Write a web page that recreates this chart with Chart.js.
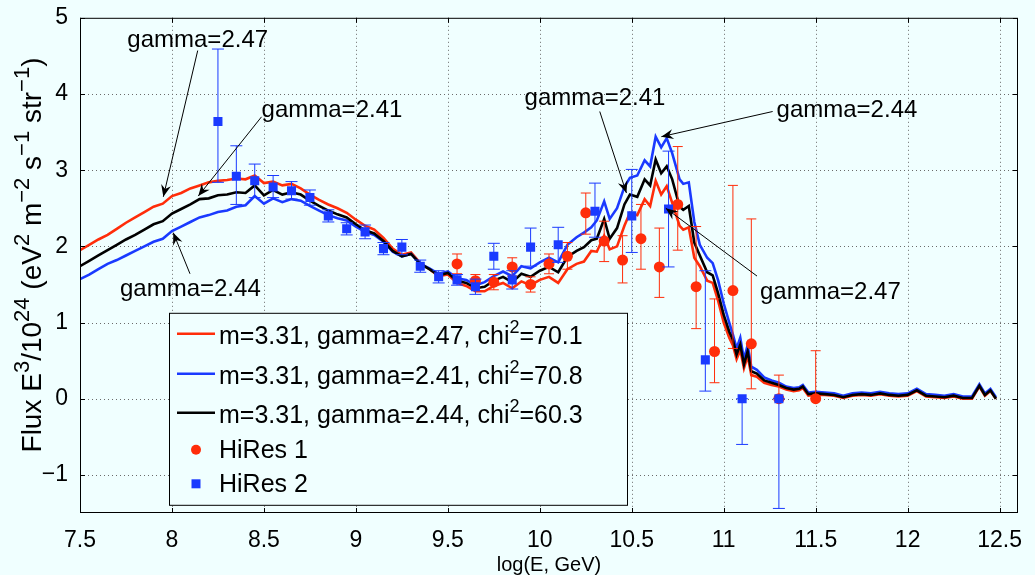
<!DOCTYPE html>
<html>
<head>
<meta charset="utf-8">
<script src="https://cdn.jsdelivr.net/npm/chart.js@4"></script>
<style>
  html, body { margin: 0; padding: 0; background: #F0FFFF; }
  #wrap { width: 1035px; height: 575px; }
</style>
</head>
<body>
<div id="wrap"><canvas id="chart" width="1035" height="575"></canvas></div>
<script>
// ---- data ----
const xTicks = [7.5, 8, 8.5, 9, 9.5, 10, 10.5, 11, 11.5, 12, 12.5];
const yTicks = [-1, 0, 1, 2, 3, 4, 5];

const logE = [
  7.50, 7.55, 7.60, 7.65, 7.70, 7.75, 7.80, 7.85, 7.90, 7.95,
  8.00, 8.05, 8.10, 8.15, 8.20, 8.25, 8.30, 8.35, 8.40, 8.45,
  8.50, 8.55, 8.60, 8.65, 8.70, 8.75, 8.80, 8.85, 8.90, 8.95,
  9.00, 9.05, 9.10, 9.15, 9.20, 9.25, 9.30, 9.35, 9.40, 9.45,
  9.50, 9.55, 9.60, 9.65, 9.70, 9.75, 9.80, 9.85, 9.90, 9.95,
  10.00, 10.05, 10.10, 10.15, 10.20,
  10.24, 10.28, 10.31, 10.35, 10.38, 10.42, 10.46, 10.49, 10.53, 10.57,
  10.60, 10.63, 10.66, 10.69, 10.72, 10.76, 10.78, 10.81, 10.84, 10.87,
  10.91, 10.94, 10.97, 11.00, 11.03, 11.05, 11.07, 11.09, 11.11, 11.13,
  11.15, 11.18, 11.22, 11.26, 11.30, 11.34, 11.38, 11.41, 11.43, 11.46,
  11.50,
  11.55, 11.60, 11.65, 11.70, 11.75, 11.80, 11.85, 11.90, 11.95, 12.00,
  12.05, 12.10, 12.15, 12.20, 12.25, 12.30, 12.35, 12.39, 12.42, 12.45, 12.48
];

// m=3.31, gamma=2.47
const fluxG247 = [
  1.95, 2.02, 2.09, 2.15, 2.23, 2.31, 2.38, 2.45, 2.52, 2.56,
  2.66, 2.70, 2.76, 2.80, 2.84, 2.86, 2.87, 2.89, 2.88, 2.93,
  2.83, 2.85, 2.80, 2.82, 2.76, 2.68, 2.61, 2.55, 2.50, 2.44,
  2.35, 2.27, 2.22, 2.11, 1.97, 1.89, 1.92, 1.78, 1.70, 1.61,
  1.63, 1.52, 1.48, 1.41, 1.41, 1.48, 1.52, 1.45, 1.54, 1.49,
  1.56, 1.60, 1.52, 1.70, 1.77,
  1.80, 1.94, 1.93, 2.14, 1.96, 2.00, 2.27, 2.44, 2.41, 2.62,
  2.53, 2.86, 2.68, 2.79, 2.57, 2.27, 2.22, 2.25, 1.85, 1.74,
  1.55, 1.52, 1.28, 1.00, 0.80, 0.70, 0.52, 0.64, 0.40, 0.56,
  0.31, 0.29, 0.21, 0.18, 0.16, 0.12, 0.10, 0.11, 0.14, 0.04,
  0.05,
  0.05, 0.04, 0.01, 0.04, 0.05, 0.04, 0.06, 0.04, 0.03, 0.04,
  0.10, 0.03, 0.02, 0.01, 0.03, 0.00, 0.00, 0.16, 0.04, 0.10, 0.00
];

// m=3.31, gamma=2.41
const fluxG241 = [
  1.57, 1.63, 1.70, 1.77, 1.82, 1.88, 1.94, 2.00, 2.06, 2.10,
  2.20, 2.26, 2.32, 2.38, 2.41, 2.45, 2.47, 2.52, 2.54, 2.66,
  2.56, 2.63, 2.58, 2.62, 2.60, 2.53, 2.47, 2.41, 2.37, 2.34,
  2.26, 2.19, 2.15, 2.06, 1.93, 1.87, 1.90, 1.77, 1.71, 1.64,
  1.67, 1.58, 1.56, 1.49, 1.53, 1.61, 1.67, 1.61, 1.74, 1.71,
  1.79, 1.85, 1.79, 2.02, 2.12,
  2.18, 2.25, 2.34, 2.59, 2.36, 2.50, 2.78, 2.90, 2.93, 3.13,
  3.05, 3.44, 3.30, 3.42, 3.22, 2.88, 2.82, 2.84, 2.32, 2.02,
  1.85, 1.78, 1.55, 1.25, 1.00, 0.84, 0.66, 0.80, 0.52, 0.70,
  0.42, 0.38, 0.28, 0.24, 0.21, 0.16, 0.14, 0.15, 0.18, 0.08,
  0.09,
  0.08, 0.07, 0.04, 0.07, 0.08, 0.07, 0.09, 0.07, 0.06, 0.07,
  0.13, 0.06, 0.05, 0.04, 0.06, 0.03, 0.03, 0.19, 0.07, 0.13, 0.02
];

// m=3.31, gamma=2.44
const fluxG244 = [
  1.74, 1.81, 1.88, 1.95, 2.02, 2.09, 2.15, 2.22, 2.29, 2.33,
  2.43, 2.49, 2.55, 2.62, 2.63, 2.67, 2.68, 2.71, 2.70, 2.80,
  2.67, 2.74, 2.68, 2.71, 2.68, 2.60, 2.53, 2.47, 2.42, 2.38,
  2.29, 2.21, 2.17, 2.07, 1.94, 1.87, 1.90, 1.77, 1.70, 1.62,
  1.65, 1.55, 1.52, 1.45, 1.47, 1.55, 1.60, 1.53, 1.64, 1.60,
  1.68, 1.73, 1.66, 1.86, 1.94,
  1.99, 2.08, 2.10, 2.36, 2.10, 2.24, 2.55, 2.68, 2.65, 2.88,
  2.80, 3.14, 2.96, 3.05, 2.88, 2.52, 2.48, 2.53, 2.05, 1.88,
  1.66, 1.62, 1.38, 1.10, 0.88, 0.77, 0.58, 0.71, 0.45, 0.62,
  0.36, 0.33, 0.24, 0.21, 0.18, 0.14, 0.12, 0.13, 0.16, 0.06,
  0.07,
  0.06, 0.05, 0.02, 0.05, 0.06, 0.05, 0.07, 0.05, 0.04, 0.05,
  0.11, 0.04, 0.03, 0.02, 0.04, 0.01, 0.01, 0.17, 0.05, 0.11, 0.00
];

// HiRes 1
const hr1E  = [9.55, 9.65, 9.75, 9.85, 9.95, 10.05, 10.15, 10.25, 10.35, 10.45, 10.55, 10.65, 10.75, 10.85, 10.95, 11.05, 11.15, 11.30, 11.50];
const hr1F  = [1.77, 1.55, 1.53, 1.73, 1.50, 1.77, 1.87, 2.44, 2.07, 1.82, 2.10, 1.73, 2.55, 1.47, 0.62, 1.42, 0.72, 0.00, 0.00];
const hr1Lo = [1.64, 1.47, 1.43, 1.61, 1.40, 1.64, 1.70, 2.16, 1.80, 1.52, 1.70, 1.33, 1.95, 0.92, 0.21, 0.66, 0.13, 0.00, 0.00];
const hr1Hi = [1.90, 1.63, 1.63, 1.85, 1.60, 1.90, 2.05, 2.70, 2.33, 2.14, 2.55, 2.24, 3.31, 2.26, 1.31, 2.80, 2.36, 0.31, 0.63];

// HiRes 2
const hr2E  = [8.25, 8.35, 8.45, 8.55, 8.65, 8.75, 8.85, 8.95, 9.05, 9.15, 9.25, 9.35, 9.45, 9.55, 9.65, 9.75, 9.85, 9.95, 10.10, 10.30, 10.50, 10.70, 10.90, 11.10, 11.30];
const hr2F  = [3.64, 2.92, 2.86, 2.78, 2.73, 2.64, 2.40, 2.23, 2.19, 1.97, 1.99, 1.74, 1.60, 1.56, 1.47, 1.87, 1.56, 1.99, 2.02, 2.46, 2.40, 2.49, 0.51, 0.00, 0.00];
const hr2Lo = [2.84, 2.55, 2.64, 2.64, 2.62, 2.54, 2.32, 2.15, 2.10, 1.89, 1.89, 1.66, 1.52, 1.49, 1.37, 1.70, 1.44, 1.74, 1.79, 2.12, 1.92, 1.73, 0.10, -0.60, -1.44];
const hr2Hi = [4.59, 3.32, 3.08, 2.93, 2.85, 2.74, 2.48, 2.31, 2.28, 2.05, 2.09, 1.82, 1.68, 1.63, 1.57, 2.04, 1.68, 2.24, 2.25, 2.83, 3.01, 3.25, 1.68, 0.00, 0.00];

// text labels with arrows (positions in data units)
const notes = [
  { text: 'gamma=2.47', at: [8.14, 4.70], from: [8.14, 4.57], to: [7.953, 2.65] },
  { text: 'gamma=2.41', at: [8.87, 3.79], from: [8.487, 3.70], to: [8.143, 2.66] },
  { text: 'gamma=2.44', at: [8.10, 1.44], from: [8.098, 1.64], to: [8.007, 2.18] },
  { text: 'gamma=2.41', at: [10.30, 3.94], from: [10.326, 3.77], to: [10.471, 2.70] },
  { text: 'gamma=2.44', at: [11.67, 3.78], from: [11.266, 3.77], to: [10.661, 3.44] },
  { text: 'gamma=2.47', at: [11.58, 1.40], from: [11.181, 1.61], to: [10.685, 2.50] }
];

const RED = '#FF2D0A';
const BLUE = '#1A3AFF';
const BLACK = '#000000';
const BG = '#F0FFFF';
const FONT = "'Liberation Sans', Arial, Helvetica, sans-serif";

const pts = (xs, ys) => xs.map((x, i) => ({ x, y: ys[i] }));

// draw text with superscript pieces; parts: [text, isSup]
function richWidth(ctx, parts, size, supScale) {
  let w = 0;
  parts.forEach(([t, sup]) => {
    ctx.font = `${sup ? Math.round(size * supScale) : size}px ${FONT}`;
    w += ctx.measureText(t).width;
  });
  return w;
}
function drawRich(ctx, parts, x, y, size, supScale) {
  let cx = x;
  ctx.textBaseline = 'alphabetic';
  ctx.textAlign = 'left';
  parts.forEach(([t, sup]) => {
    ctx.font = `${sup ? Math.round(size * supScale) : size}px ${FONT}`;
    ctx.fillText(t, cx, sup ? y - size * 0.42 : y);
    cx += ctx.measureText(t).width;
  });
}

function arrow(ctx, x0, y0, x1, y1) {
  ctx.beginPath();
  ctx.moveTo(x0, y0);
  ctx.lineTo(x1, y1);
  ctx.stroke();
  const a = Math.atan2(y1 - y0, x1 - x0);
  const ux = Math.cos(a), uy = Math.sin(a);
  const px = -uy, py = ux;
  const L = 12, W = 5, B = 8;
  ctx.beginPath();
  ctx.moveTo(x1, y1);
  ctx.lineTo(x1 - ux * L + px * W, y1 - uy * L + py * W);
  ctx.lineTo(x1 - ux * B, y1 - uy * B);
  ctx.lineTo(x1 - ux * L - px * W, y1 - uy * L - py * W);
  ctx.closePath();
  ctx.fill();
}

const matlabLook = {
  id: 'matlabLook',
  beforeDraw(chart) {
    const ctx = chart.ctx;
    ctx.save();
    ctx.fillStyle = BG;
    ctx.fillRect(0, 0, chart.width, chart.height);
    ctx.restore();
  },
  beforeDatasetsDraw(chart) {
    const { ctx, chartArea: a, scales: { x, y } } = chart;
    ctx.save();
    ctx.strokeStyle = '#6a6a6a';
    ctx.lineWidth = 1;
    ctx.setLineDash([1, 3]);
    xTicks.forEach(v => {
      const px = Math.round(x.getPixelForValue(v)) + 0.5;
      if (px <= a.left + 1 || px >= a.right - 1) return;
      ctx.beginPath(); ctx.moveTo(px, a.top); ctx.lineTo(px, a.bottom); ctx.stroke();
    });
    yTicks.forEach(v => {
      const py = Math.round(y.getPixelForValue(v)) + 0.5;
      if (py <= a.top + 1 || py >= a.bottom - 1) return;
      ctx.beginPath(); ctx.moveTo(a.left, py); ctx.lineTo(a.right, py); ctx.stroke();
    });
    ctx.restore();
  },
  beforeDatasetDraw(chart, args) {
    const ds = chart.data.datasets[args.index];
    if (!ds.errLo) return;
    const { ctx, scales: { x, y } } = chart;
    ctx.save();
    ctx.strokeStyle = ds.backgroundColor;
    ctx.lineWidth = 1;
    const cap = ds.capHalf;
    ds.data.forEach((p, i) => {
      const px = x.getPixelForValue(p.x);
      const lo = y.getPixelForValue(ds.errLo[i]);
      const hi = y.getPixelForValue(ds.errHi[i]);
      ctx.beginPath();
      ctx.moveTo(px, lo); ctx.lineTo(px, hi);
      ctx.moveTo(px - cap, lo); ctx.lineTo(px + cap, lo);
      ctx.moveTo(px - cap, hi); ctx.lineTo(px + cap, hi);
      ctx.stroke();
    });
    ctx.restore();
  },
  afterDatasetsDraw(chart) {
    const { ctx, chartArea: a, scales: { x, y } } = chart;
    ctx.save();
    ctx.strokeStyle = '#000';
    ctx.lineWidth = 1;
    ctx.strokeRect(a.left + 0.5, a.top + 0.5, a.right - a.left - 1, a.bottom - a.top - 1);
    const tl = 5;
    ctx.beginPath();
    xTicks.forEach(v => {
      const px = Math.round(x.getPixelForValue(v)) + 0.5;
      ctx.moveTo(px, a.bottom); ctx.lineTo(px, a.bottom - tl);
      ctx.moveTo(px, a.top); ctx.lineTo(px, a.top + tl);
    });
    yTicks.forEach(v => {
      const py = Math.round(y.getPixelForValue(v)) + 0.5;
      ctx.moveTo(a.left, py); ctx.lineTo(a.left + tl, py);
      ctx.moveTo(a.right, py); ctx.lineTo(a.right - tl, py);
    });
    ctx.stroke();

    // arrows and their labels
    ctx.fillStyle = '#000';
    ctx.lineWidth = 1;
    notes.forEach(n => {
      arrow(ctx,
        x.getPixelForValue(n.from[0]), y.getPixelForValue(n.from[1]),
        x.getPixelForValue(n.to[0]), y.getPixelForValue(n.to[1]));
      ctx.font = `24px ${FONT}`;
      ctx.textAlign = 'center';
      ctx.textBaseline = 'middle';
      ctx.fillText(n.text, x.getPixelForValue(n.at[0]), y.getPixelForValue(n.at[1]));
    });

    // legend
    const box = { l: a.left + 89, t: a.top + 295, r: a.left + 547, b: a.top + 487 };
    ctx.fillStyle = BG;
    ctx.fillRect(box.l, box.t, box.r - box.l, box.b - box.t);
    ctx.strokeStyle = '#000';
    ctx.strokeRect(box.l + 0.5, box.t + 0.5, box.r - box.l, box.b - box.t);
    const rows = [
      { kind: 'line', color: RED, parts: [['m=3.31, gamma=2.47, chi'], ['2', true], ['=70.1']], base: 31, mark: 21 },
      { kind: 'line', color: BLUE, parts: [['m=3.31, gamma=2.41, chi'], ['2', true], ['=70.8']], base: 71, mark: 61 },
      { kind: 'line', color: BLACK, parts: [['m=3.31, gamma=2.44, chi'], ['2', true], ['=60.3']], base: 110, mark: 100 },
      { kind: 'circle', color: RED, parts: [['HiRes 1']], base: 145, mark: 137 },
      { kind: 'rect', color: BLUE, parts: [['HiRes 2']], base: 179, mark: 171 }
    ];
    rows.forEach(r => {
      const my = box.t + r.mark;
      ctx.fillStyle = r.color;
      ctx.strokeStyle = r.color;
      if (r.kind === 'line') {
        ctx.lineWidth = 2.5;
        ctx.beginPath(); ctx.moveTo(box.l + 8, my); ctx.lineTo(box.l + 46, my); ctx.stroke();
      } else if (r.kind === 'circle') {
        ctx.beginPath(); ctx.arc(box.l + 27, my, 5, 0, Math.PI * 2); ctx.fill();
      } else {
        ctx.fillRect(box.l + 22.5, my - 4.5, 9, 9);
      }
      ctx.fillStyle = '#000';
      drawRich(ctx, r.parts, box.l + 50, box.t + r.base, 25, 0.7);
    });

    // y axis title
    const yParts = [['Flux E'], ['3', true], ['/10'], ['24', true], [' (eV'], ['2', true], [' m'], ['\u22122', true], [' s'], ['\u22121', true], [' str'], ['\u22121', true], [')']];
    const ys = 28;
    const w = richWidth(ctx, yParts, ys, 0.8);
    ctx.save();
    ctx.translate(41, 255);
    ctx.rotate(-Math.PI / 2);
    drawRich(ctx, yParts, -w / 2, 0, ys, 0.8);
    ctx.restore();

    // x axis title
    ctx.font = `20px ${FONT}`;
    ctx.textAlign = 'center';
    ctx.textBaseline = 'alphabetic';
    ctx.fillText('log(E, GeV)', (a.left + a.right) / 2, 571);
    ctx.restore();
  }
};

const lineDs = (label, ys, color) => ({
  label, data: pts(logE, ys), showLine: true, borderColor: color, backgroundColor: color,
  borderWidth: 2.6, pointRadius: 0, tension: 0, fill: false
});

new Chart(document.getElementById('chart'), {
  type: 'scatter',
  data: {
    datasets: [
      { label: 'HiRes 2', data: pts(hr2E, hr2F), errLo: hr2Lo, errHi: hr2Hi, capHalf: 6,
        backgroundColor: BLUE, borderColor: BLUE, pointStyle: 'rect', pointRadius: 6.4, pointBorderWidth: 0 },
      { label: 'HiRes 1', data: pts(hr1E, hr1F), errLo: hr1Lo, errHi: hr1Hi, capHalf: 5,
        backgroundColor: RED, borderColor: RED, pointStyle: 'circle', pointRadius: 5.5, pointBorderWidth: 0 },
      lineDs('m=3.31, gamma=2.44', fluxG244, BLACK),
      lineDs('m=3.31, gamma=2.41', fluxG241, BLUE),
      lineDs('m=3.31, gamma=2.47', fluxG247, RED)
    ]
  },
  options: {
    responsive: false,
    animation: false,
    events: [],
    layout: { padding: { left: 0, right: 17, top: 14, bottom: 0 } },
    plugins: { legend: { display: false }, tooltip: { enabled: false } },
    scales: {
      x: {
        type: 'linear', min: 7.5, max: 12.6, bounds: 'data',
        afterBuildTicks: s => { s.ticks = xTicks.map(v => ({ value: v })); },
        afterFit: s => { s.height = 62; },
        grid: { display: false }, border: { display: false },
        ticks: { color: '#000', font: { family: FONT, size: 23 }, padding: 6, maxRotation: 0,
                 autoSkip: false, callback: v => String(v) }
      },
      y: {
        type: 'linear', min: -1.5, max: 5, bounds: 'data',
        afterBuildTicks: s => { s.ticks = yTicks.map(v => ({ value: v })); },
        afterFit: s => { s.width = 80; },
        grid: { display: false }, border: { display: false },
        ticks: { color: '#000', font: { family: FONT, size: 23 }, padding: 4,
                 autoSkip: false, callback: v => String(v).replace('-', '\u2212') }
      }
    }
  },
  plugins: [matlabLook]
});
</script>
</body>
</html>
